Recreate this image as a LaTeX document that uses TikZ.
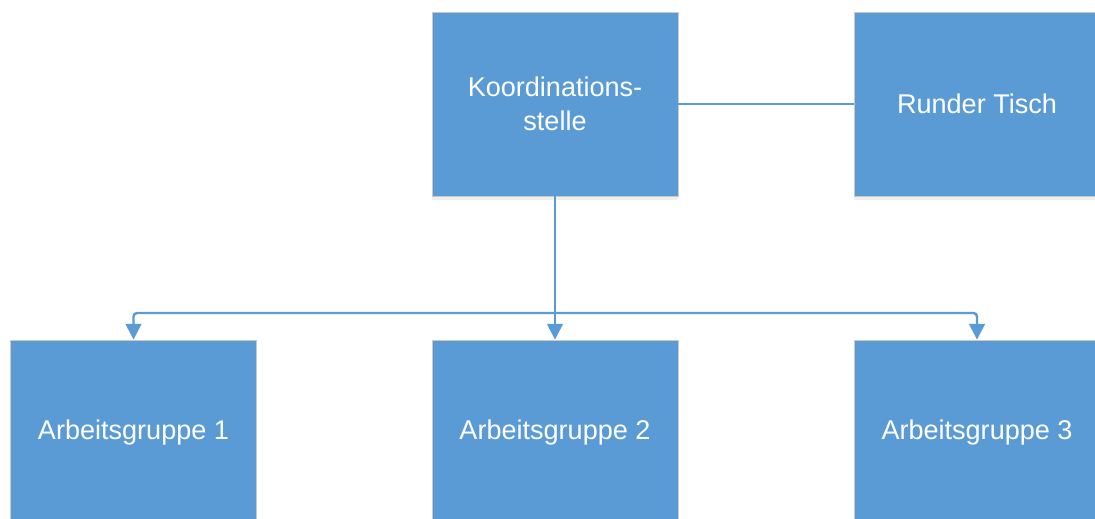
\documentclass[tikz,border=0pt]{standalone}
\usepackage{fontspec}
\setmainfont{Liberation Sans}
\usetikzlibrary{arrows.meta,shadows}
\definecolor{boxblue}{HTML}{5B9BD5}
\definecolor{boxrand}{HTML}{C9C9C9}
\tikzset{
	stelle/.style={rectangle,fill=boxblue,draw=boxrand,line width=0.5pt,
		minimum width=4.92cm,minimum height=3.68cm,text=white,align=center,
		font=\fontsize{15.4}{19.5}\selectfont,inner sep=0pt,
		drop shadow={opacity=0.12,shadow xshift=0pt,shadow yshift=-2pt}},
	verbindung/.style={draw=boxblue,line width=1.4pt},
	pfeil/.style={verbindung,-{Triangle[width=9pt,length=9pt]}}
}
\begin{document}
\begin{tikzpicture}[x=0.02cm,y=-0.02cm]
			\useasboundingbox (0,0) rectangle (1095,518);
			\clip (0,0) rectangle (1095,518);
			\fill[white] (0,0) rectangle (1095,518);
			
			\node[stelle] (koord) at (555,104) {Koordinations-\\stelle};
			\node[stelle] (tisch) at (977,104) {Runder Tisch};
			\node[stelle] (ag1) at (133.5,432) {Arbeitsgruppe 1};
			\node[stelle] (ag2) at (555,432) {Arbeitsgruppe 2};
			\node[stelle] (ag3) at (977,432) {Arbeitsgruppe 3};
			
			\coordinate (bus) at (555,313);
			\draw[verbindung] (koord.east) -- (tisch.west);
			\draw[pfeil] (koord.south) -- (ag2.north);
			\draw[pfeil,rounded corners=2pt] (bus) -| (ag1.north);
			\draw[pfeil,rounded corners=2pt] (bus) -| (ag3.north);
		\end{tikzpicture}
\end{document}
